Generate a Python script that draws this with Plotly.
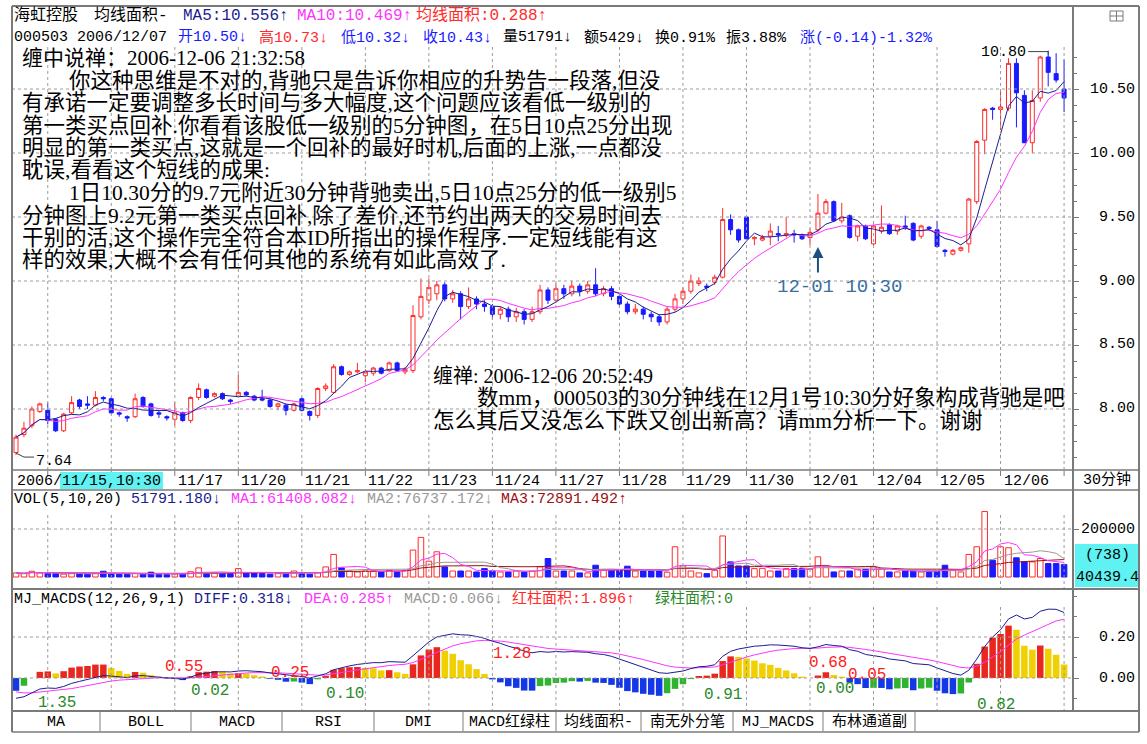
import numpy as np
import pandas as pd
import plotly.graph_objects as go

# ---------------- data ----------------
OPEN = [7.66, 7.80, 7.87, 7.98, 7.99, 7.92, 7.83, 7.97, 8.07, 8.04,
        8.03, 8.09, 8.08, 7.97, 7.94, 7.94, 8.09, 8.04, 7.97, 7.94,
        7.92, 7.97, 7.91, 8.09, 8.15, 8.10, 8.12, 8.07, 8.10, 8.13,
        8.10, 8.08, 8.07, 8.02, 8.03, 7.99, 8.08, 7.98, 7.95, 8.16,
        8.13, 8.33, 8.27, 8.29, 8.26, 8.28, 8.32, 8.30, 8.36, 8.29,
        8.30, 8.72, 8.85, 8.90, 8.97, 8.86, 8.90, 8.80, 8.86, 8.82,
        8.80, 8.74, 8.78, 8.72, 8.76, 8.70, 8.76, 8.93, 8.85, 8.94,
        8.90, 8.96, 8.92, 8.97, 8.90, 8.94, 8.88, 8.82, 8.76, 8.78,
        8.74, 8.72, 8.68, 8.78, 8.86, 8.92, 8.98, 8.96, 8.99, 9.03,
        9.48, 9.40, 9.50, 9.33, 9.32, 9.35, 9.37, 9.36, 9.37, 9.36,
        9.34, 9.40, 9.53, 9.62, 9.47, 9.51, 9.35, 9.43, 9.29, 9.39,
        9.44, 9.39, 9.43, 9.45, 9.35, 9.42, 9.40, 9.24, 9.21, 9.24,
        9.29, 9.62, 10.10, 10.35, 10.34, 10.35, 10.70, 10.45, 10.08, 10.43,
        10.75, 10.62, 10.50]
HIGH = [7.80, 7.90, 8.02, 8.05, 8.05, 7.93, 7.97, 8.10, 8.08, 8.10,
        8.14, 8.10, 8.09, 7.98, 7.95, 8.12, 8.10, 8.05, 7.99, 7.95,
        8.05, 7.98, 8.10, 8.20, 8.16, 8.13, 8.13, 8.08, 8.27, 8.14,
        8.11, 8.15, 8.08, 8.05, 8.04, 8.05, 8.09, 7.99, 8.17, 8.20,
        8.35, 8.34, 8.30, 8.36, 8.31, 8.33, 8.33, 8.37, 8.37, 8.33,
        8.81, 9.02, 9.02, 9.00, 8.99, 8.93, 8.92, 8.95, 8.88, 8.85,
        8.82, 8.80, 8.80, 8.79, 8.78, 8.80, 8.97, 8.95, 8.98, 8.97,
        9.00, 8.98, 9.00, 9.10, 8.96, 8.96, 8.90, 8.84, 8.82, 8.80,
        8.76, 8.74, 8.80, 8.90, 8.95, 9.05, 9.03, 8.98, 9.05, 9.57,
        9.52, 9.41, 9.51, 9.35, 9.36, 9.45, 9.43, 9.50, 9.40, 9.37,
        9.41, 9.68, 9.64, 9.63, 9.61, 9.52, 9.44, 9.44, 9.44, 9.59,
        9.45, 9.44, 9.51, 9.46, 9.44, 9.43, 9.47, 9.25, 9.25, 9.27,
        9.65, 10.10, 10.35, 10.36, 10.49, 10.74, 10.74, 10.49, 10.49, 10.76,
        10.80, 10.78, 10.73]
LOW = [7.64, 7.78, 7.85, 7.97, 7.88, 7.82, 7.82, 7.96, 8.00, 8.00,
       8.02, 8.06, 7.96, 7.94, 7.90, 7.93, 8.01, 7.94, 7.93, 7.91,
       7.87, 7.90, 7.89, 8.07, 8.08, 8.09, 8.07, 8.04, 8.09, 8.10,
       8.06, 8.06, 8.01, 7.99, 7.95, 7.98, 7.98, 7.91, 7.93, 8.14,
       8.12, 8.26, 8.26, 8.28, 8.21, 8.26, 8.27, 8.29, 8.29, 8.27,
       8.28, 8.70, 8.82, 8.85, 8.84, 8.83, 8.70, 8.78, 8.78, 8.76,
       8.70, 8.70, 8.68, 8.68, 8.66, 8.68, 8.74, 8.82, 8.83, 8.86,
       8.88, 8.88, 8.90, 8.88, 8.88, 8.85, 8.80, 8.74, 8.74, 8.70,
       8.68, 8.65, 8.66, 8.76, 8.82, 8.90, 8.96, 8.92, 8.97, 9.02,
       9.36, 9.30, 9.32, 9.28, 9.31, 9.28, 9.31, 9.34, 9.30, 9.32,
       9.28, 9.38, 9.52, 9.46, 9.45, 9.33, 9.31, 9.32, 9.28, 9.37,
       9.36, 9.36, 9.40, 9.31, 9.33, 9.39, 9.26, 9.19, 9.20, 9.23,
       9.22, 9.60, 9.99, 10.26, 10.18, 10.33, 10.20, 10.08, 10.00, 10.40,
       10.52, 10.55, 10.32]
CLOSE = [7.78, 7.85, 8.00, 8.04, 7.91, 7.83, 7.96, 8.05, 8.02, 8.03,
         8.09, 8.08, 7.97, 7.96, 7.93, 8.08, 8.02, 7.95, 7.96, 7.93,
         7.97, 7.91, 8.09, 8.16, 8.09, 8.12, 8.08, 8.06, 8.13, 8.11,
         8.07, 8.07, 8.02, 8.04, 7.99, 8.04, 7.99, 7.95, 8.16, 8.18,
         8.33, 8.27, 8.29, 8.30, 8.29, 8.32, 8.28, 8.36, 8.30, 8.31,
         8.73, 8.88, 8.95, 8.97, 8.86, 8.90, 8.80, 8.86, 8.82, 8.80,
         8.74, 8.78, 8.72, 8.76, 8.70, 8.76, 8.93, 8.85, 8.94, 8.90,
         8.96, 8.92, 8.97, 8.90, 8.94, 8.88, 8.82, 8.76, 8.78, 8.74,
         8.72, 8.68, 8.78, 8.86, 8.92, 9.00, 9.00, 8.95, 9.03, 9.48,
         9.40, 9.32, 9.33, 9.34, 9.34, 9.39, 9.36, 9.37, 9.36, 9.33,
         9.38, 9.53, 9.62, 9.47, 9.50, 9.34, 9.43, 9.33, 9.43, 9.42,
         9.37, 9.43, 9.42, 9.32, 9.43, 9.41, 9.27, 9.23, 9.24, 9.26,
         9.64, 10.09, 10.34, 10.34, 10.36, 10.70, 10.47, 10.08, 10.41, 10.75,
         10.63, 10.57, 10.43]
VOLUME = [17000, 14000, 24000, 17000, 14000, 14000, 12000, 14000, 14000, 12000,
          15000, 24000, 15000, 12000, 12000, 14000, 12000, 20000, 12000, 10000,
          12000, 14000, 22000, 38000, 14000, 17000, 14000, 14000, 35000, 17000,
          17000, 14000, 12000, 14000, 14000, 25000, 14000, 12000, 17000, 42000,
          94000, 38000, 25000, 21000, 25000, 24000, 21000, 28000, 21000, 28000,
          112000, 165000, 66000, 105000, 42000, 25000, 25000, 25000, 21000, 35000,
          25000, 21000, 21000, 25000, 21000, 25000, 42000, 77000, 25000, 25000,
          25000, 17000, 17000, 49000, 28000, 28000, 28000, 45000, 25000, 25000,
          25000, 25000, 20000, 126000, 46000, 25000, 17000, 14000, 28000, 171000,
          63000, 46000, 46000, 35000, 36000, 25000, 25000, 35000, 35000, 35000,
          32000, 84000, 42000, 21000, 25000, 25000, 32000, 32000, 42000, 35000,
          21000, 21000, 25000, 25000, 21000, 25000, 25000, 49000, 28000, 21000,
          94000, 126000, 273000, 70000, 126000, 122000, 80000, 63000, 63000, 77000,
          56000, 56000, 51791]

DAY_LABELS = ["11/15", "11/16", "11/17", "11/20", "11/21", "11/22", "11/23", "11/24",
              "11/27", "11/28", "11/29", "11/30", "12/01", "12/04", "12/05", "12/06", "12/07"]
FIRST_DAY_START = 4
BARS_PER_DAY = 8
CURSOR_LABEL = ("2006/", "11/15,10:30")
PRICE_TICKS = [8.00, 8.50, 9.00, 9.50, 10.00, 10.50]
VOL_TICKS = [200000]
MACD_TICKS = [0.00, 0.20]
MACD_SEEDS = (7.86, 7.96, -0.06)           # EMA12, EMA26, DEA before first visible bar
HIGH_MARK, LOW_MARK = 10.80, 7.64
RED_AREAS = ["0.55", "0.25", "1.28", "0.68", "0.05"]
RED_AREA_AT = [(21.2, 0.054), (34.5, 0.024), (62.5, 0.117), (102.3, 0.073), (107.2, 0.015)]
GREEN_AREAS = ["1.35", "0.02", "0.10", "0.91", "0.00", "0.82"]
GREEN_AREA_AT = [(5.2, -0.122), (24.4, -0.063), (41.4, -0.078), (89.0, -0.083), (103.1, -0.054), (123.4, -0.132)]

HEADER_ROW1 = ["海虹控股", "均线面积-", "MA5:10.556↑", "MA10:10.469↑", "均线面积:0.288↑"]
HEADER_ROW2 = ["000503 2006/12/07", "开10.50↓", "高10.73↓", "低10.32↓", "收10.43↓",
               "量51791↓", "额5429↓", "换0.91%", "振3.88%", "涨(-0.14)-1.32%"]
VOL_HEADER = ["VOL(5,10,20)", "51791.180↓", "MA1:61408.082↓", "MA2:76737.172↓", "MA3:72891.492↑"]
MACD_HEADER = ["MJ_MACDS(12,26,9,1)", "DIFF:0.318↓", "DEA:0.285↑", "MACD:0.066↓",
               "红柱面积:1.896↑", "绿柱面积:0"]
TABS = ["MA", "BOLL", "MACD", "RSI", "DMI", "MACD红绿柱", "均线面积-", "南无外分笔", "MJ_MACDS", "布林通道副"]
VOL_BOX = ["(738)", "40439.4"]
PERIOD_LABEL = "30分钟"

COMMENT_TITLE = "缠中说禅：2006-12-06 21:32:58"
COMMENT_LINES = [
    "你这种思维是不对的,背驰只是告诉你相应的升势告一段落,但没",
    "有承诺一定要调整多长时间与多大幅度,这个问题应该看低一级别的",
    "第一类买点回补.你看看该股低一级别的5分钟图，在5日10点25分出现",
    "明显的第一类买点,这就是一个回补的最好时机,后面的上涨,一点都没",
    "耽误,看看这个短线的成果:",
    "1日10.30分的9.7元附近30分钟背驰卖出,5日10点25分的低一级别5",
    "分钟图上9.2元第一类买点回补,除了差价,还节约出两天的交易时间去",
    "干别的活,这个操作完全符合本ID所指出的操作程序.一定短线能有这",
    "样的效果,大概不会有任何其他的系统有如此高效了.",
]
QUESTION_TITLE = "缠禅: 2006-12-06 20:52:49"
QUESTION_LINES = ["数mm，000503的30分钟线在12月1号10:30分好象构成背驰是吧",
                  "怎么其后又没怎么下跌又创出新高？请mm分析一下。谢谢"]
MARK_TEXT = "12-01 10:30"
MARK_BAR = 101

# ---------------- indicators ----------------
idx = np.arange(len(CLOSE))
close = pd.Series(CLOSE, dtype=float)
vol = pd.Series(VOLUME, dtype=float)
ma5 = close.rolling(5, min_periods=1).mean()
ma10 = close.rolling(10, min_periods=1).mean()
vma5 = vol.rolling(5, min_periods=1).mean()
vma10 = vol.rolling(10, min_periods=1).mean()
vma20 = vol.rolling(20, min_periods=1).mean()


def ema(values, n, seed):
    a = 2.0 / (n + 1)
    out, prev = [], seed
    for v in values:
        prev = prev + a * (v - prev)
        out.append(prev)
    return np.array(out)


e12 = ema(CLOSE, 12, MACD_SEEDS[0])
e26 = ema(CLOSE, 26, MACD_SEEDS[1])
diff = e12 - e26
dea = ema(diff, 9, MACD_SEEDS[2])
macd = 2 * (diff - dea)

# ---------------- layout geometry ----------------
W, H = 1147, 744
def px(x): return x / W
def py(y): return 1 - y / H

BAR_X0, BAR_DX = 16.0, 7.94
PLOT_L, PLOT_R, RIGHT_EDGE, FRAME_L = 12, 1073, 1139, 12
XR = [(PLOT_L - BAR_X0) / BAR_DX, (PLOT_R - BAR_X0) / BAR_DX]
def bar_px(i): return BAR_X0 + i * BAR_DX

PRICE_TOP, PRICE_BOT = 47, 470
def price_at(y): return 10.5 - (y - 89) / 128.0
def price_y(p): return 89 + (10.5 - p) * 128.0
VOL_TOP, VOL_BOT = 505, 589
def vol_at(y): return (577 - y) / 48.0 * 200000
def vol_y(v): return 577 - v / 200000 * 48.0
MACD_TOP, MACD_BOT = 590, 711
def macd_at(y): return (678 - y) / 205.0
def macd_y(m): return 678 - m * 205.0

RED = "#ff2a2a"
BLUE = "#1a1aff"
NAVY = "#1c1c90"
MAGENTA = "#ff33ff"
GRAY = "#999999"
DARKRED = "#a01010"
GREEN = "#2a8a2a"
FRAME = "#7a7a7a"
GRID = "#9c9c9c"
CYAN = "#5ef2f2"
MONO = "Liberation Mono, Noto Sans CJK SC, monospace"
SERIF = "Liberation Serif, Noto Sans CJK SC, serif"

fig = go.Figure()

fig.add_trace(go.Candlestick(
    x=idx, open=OPEN, high=HIGH, low=LOW, close=CLOSE,
    increasing=dict(line=dict(color=RED, width=1), fillcolor="#ffffff"),
    decreasing=dict(line=dict(color=BLUE, width=1), fillcolor=BLUE),
    whiskerwidth=0, hoverinfo="skip", xaxis="x", yaxis="y", showlegend=False))
fig.add_trace(go.Scatter(x=idx, y=ma10, mode="lines", line=dict(color=MAGENTA, width=1),
                         hoverinfo="skip", yaxis="y", showlegend=False))
fig.add_trace(go.Scatter(x=idx, y=ma5, mode="lines", line=dict(color=NAVY, width=1),
                         hoverinfo="skip", yaxis="y", showlegend=False))

up = np.array(CLOSE) >= np.array(OPEN)
fig.add_trace(go.Bar(x=idx, y=VOLUME, width=0.7,
                     marker=dict(color=np.where(up, "#ffffff", BLUE).tolist(),
                                 line=dict(color=np.where(up, RED, BLUE).tolist(), width=1)),
                     hoverinfo="skip", yaxis="y2", showlegend=False))
for s, c in [(vma20, DARKRED), (vma10, GRAY), (vma5, MAGENTA)]:
    fig.add_trace(go.Scatter(x=idx, y=s, mode="lines", line=dict(color=c, width=1),
                             hoverinfo="skip", yaxis="y2", showlegend=False))

mcol = []
for k, m in enumerate(macd):
    prev = macd[k - 1] if k > 0 else m
    if m >= 0:
        mcol.append("#e8281e" if m >= prev else "#f0d000")
    else:
        mcol.append("#1438e6" if m <= prev else "#2fb42f")
fig.add_trace(go.Bar(x=idx, y=macd, width=0.82, marker=dict(color=mcol, line=dict(width=0)),
                     hoverinfo="skip", yaxis="y3", showlegend=False))
fig.add_trace(go.Scatter(x=idx, y=dea, mode="lines", line=dict(color=MAGENTA, width=1),
                         hoverinfo="skip", yaxis="y3", showlegend=False))
fig.add_trace(go.Scatter(x=idx, y=diff, mode="lines", line=dict(color=NAVY, width=1),
                         hoverinfo="skip", yaxis="y3", showlegend=False))

shapes = []
annotations = []


def line(x0, y0, x1, y1, color=FRAME, width=1, dash="solid"):
    shapes.append(dict(type="line", xref="paper", yref="paper", x0=px(x0), y0=py(y0),
                       x1=px(x1), y1=py(y1), line=dict(color=color, width=width, dash=dash),
                       layer="above"))


def text(x, y, t, color="#000000", size=15, family=MONO, anchor="left"):
    annotations.append(dict(x=px(x), y=py(y), xref="paper", yref="paper", text=t,
                            showarrow=False, xanchor=anchor, yanchor="middle",
                            borderpad=0, font=dict(family=family, size=size, color=color)))


# grid (dotted)
day_starts = [FIRST_DAY_START + BARS_PER_DAY * k for k in range(len(DAY_LABELS))]
for d in day_starts:
    xp = bar_px(d)
    for (a, b) in [(PRICE_TOP, PRICE_BOT), (515, VOL_BOT), (607, MACD_BOT)]:
        line(xp, a, xp, b, GRID, 1, "dot")
for p in PRICE_TICKS:
    line(PLOT_L, price_y(p), PLOT_R, price_y(p), GRID, 1, "dot")
for v in VOL_TICKS:
    line(PLOT_L, vol_y(v), PLOT_R, vol_y(v), GRID, 1, "dot")
for m in MACD_TICKS:
    line(PLOT_L, macd_y(m), PLOT_R, macd_y(m), GRID, 1, "dot")

# frame
line(FRAME_L, 6, RIGHT_EDGE, 6, FRAME, 2)
line(FRAME_L, 6, FRAME_L, 732, FRAME, 2)
line(PLOT_R, 6, PLOT_R, 711, FRAME, 2)
line(RIGHT_EDGE, 6, RIGHT_EDGE, 732, FRAME, 2)
line(FRAME_L, 470, RIGHT_EDGE, 470, FRAME, 1.5)
line(FRAME_L, 490, RIGHT_EDGE, 490, FRAME, 1.5)
line(FRAME_L, 589, RIGHT_EDGE, 589, FRAME, 2)
line(FRAME_L, 711, RIGHT_EDGE, 711, FRAME, 2)
line(FRAME_L, 732, RIGHT_EDGE, 732, FRAME, 1.5)
shapes.append(dict(type="rect", xref="paper", yref="paper", x0=px(1110), x1=px(1123),
                   y0=py(21), y1=py(11), line=dict(color=FRAME, width=1)))
line(1116.5, 11, 1116.5, 21, FRAME, 1)
line(1110, 16, 1123, 16, FRAME, 1)

# date row
for d in day_starts:
    line(bar_px(d), 471, bar_px(d), 476, FRAME, 1)
for d, lab in zip(day_starts, DAY_LABELS):
    if d >= FIRST_DAY_START + 2 * BARS_PER_DAY and d + BARS_PER_DAY <= len(CLOSE):
        text(bar_px(d) + 2, 481, lab, "#000000", 15)
shapes.append(dict(type="rect", xref="paper", yref="paper", x0=px(60), x1=px(163),
                   y0=py(489), y1=py(472), fillcolor=CYAN, line=dict(width=0), layer="above"))
text(16, 481, CURSOR_LABEL[0], "#000000", 15)
text(61, 481, CURSOR_LABEL[1], "#000000", 15)
text(1107, 480, PERIOD_LABEL, "#000000", 15, anchor="center")

# header rows
ROW1_X = [13, 93, 182, 296, 415]
ROW1_C = ["#000000", "#000000", NAVY, MAGENTA, RED]
for t_, x_, c_ in zip(HEADER_ROW1, ROW1_X, ROW1_C):
    text(x_, 16, t_, c_, 16)
ROW2_X = [13, 177, 258, 340, 422, 502, 583, 654, 725, 799]
ROW2_C = ["#000000", BLUE, RED, BLUE, BLUE, "#000000", "#000000", "#000000", "#000000", BLUE]
for t_, x_, c_ in zip(HEADER_ROW2, ROW2_X, ROW2_C):
    text(x_, 38, t_, c_, 15)
VOL_X = [13, 130, 230, 366, 500]
VOL_C = ["#000000", NAVY, MAGENTA, GRAY, DARKRED]
for t_, x_, c_ in zip(VOL_HEADER, VOL_X, VOL_C):
    text(x_, 500, t_, c_, 15)
MACD_X = [13, 193, 303, 403, 511, 654]
MACD_C = ["#000000", NAVY, MAGENTA, GRAY, RED, GREEN]
for t_, x_, c_ in zip(MACD_HEADER, MACD_X, MACD_C):
    text(x_, 599, t_, c_, 15)

# right axis labels
for p in PRICE_TICKS:
    text(1136, price_y(p), f"{p:.2f}", "#000000", 15, anchor="right")
for v in VOL_TICKS:
    text(1136, vol_y(v), f"{v:d}", "#000000", 15, anchor="right")
for m in MACD_TICKS:
    text(1136, macd_y(m), f"{m:.2f}", "#000000", 15, anchor="right")
shapes.append(dict(type="rect", xref="paper", yref="paper", x0=px(1075), x1=px(1138),
                   y0=py(587), y1=py(544), fillcolor=CYAN, line=dict(width=0), layer="above"))
text(1107, 555, VOL_BOX[0], "#000000", 15, anchor="center")
text(1107, 577, VOL_BOX[1], "#000000", 15, anchor="center")

# tabs
TAB_SEPS = [FRAME_L, 100, 191, 282, 374, 463, 556, 641, 733, 823, 915]
for s in TAB_SEPS[1:]:
    line(s, 712, s, 731, "#a8a8a8", 1.5)
for k, t_ in enumerate(TABS):
    text((TAB_SEPS[k] + TAB_SEPS[k + 1]) / 2, 722, t_, "#000000", 15, anchor="center")

# comments
text(21, 58, COMMENT_TITLE, "#000000", 21, SERIF)
for k, t_ in enumerate(COMMENT_LINES):
    x0 = 68 if k in (0, 5) else 21
    text(x0, 81 + k * 22.3 + (1 if k >= 5 else 0), t_, "#000000", 21.5, SERIF)
text(432, 376, QUESTION_TITLE, "#000000", 20, SERIF)
text(476, 398, QUESTION_LINES[0], "#000000", 21.5, SERIF)
text(432, 421, QUESTION_LINES[1], "#000000", 21.5, SERIF)

# mark for 12-01 10:30
annotations.append(dict(x=MARK_BAR, y=price_at(247), xref="x", yref="y", text="",
                        showarrow=True, ax=0, ay=27, arrowhead=2, arrowsize=1.1,
                        arrowwidth=2, arrowcolor="#1f4f7f"))
text(bar_px(MARK_BAR) + 22, 287, MARK_TEXT, "#3a70a0", 19, anchor="center")

# high / low marks
hi_bar = int(np.argmax(HIGH))
lo_bar = int(np.argmin(LOW))
line(bar_px(hi_bar) - 20, price_y(HIGH_MARK) + 1, bar_px(hi_bar), price_y(HIGH_MARK) + 1, "#404040", 1)
line(bar_px(hi_bar), price_y(HIGH_MARK) + 1, bar_px(hi_bar), price_y(HIGH_MARK) + 4, "#404040", 1)
text(bar_px(hi_bar) - 21, price_y(HIGH_MARK) + 2, f"{HIGH_MARK:.2f}", "#000000", 15, anchor="right")
line(bar_px(lo_bar), price_y(LOW_MARK) - 2, bar_px(lo_bar) + 8, price_y(LOW_MARK) + 2, "#404040", 1)
line(bar_px(lo_bar) + 8, price_y(LOW_MARK) + 2, bar_px(lo_bar) + 18, price_y(LOW_MARK) + 2, "#404040", 1)
text(bar_px(lo_bar) + 19, price_y(LOW_MARK) + 6, f"{LOW_MARK:.2f}", "#000000", 15)

# MACD area labels
for t_, (bi, mv) in zip(RED_AREAS, RED_AREA_AT):
    text(bar_px(bi), macd_y(mv), t_, "#ff2020", 16, anchor="center")
for t_, (bi, mv) in zip(GREEN_AREAS, GREEN_AREA_AT):
    text(bar_px(bi), macd_y(mv), t_, GREEN, 16, anchor="center")

axis_common = dict(showgrid=False, zeroline=False, showline=False, fixedrange=True)
fig.update_layout(
    width=W, height=H, autosize=False,
    margin=dict(l=0, r=0, t=0, b=0, pad=0),
    paper_bgcolor="#ffffff", plot_bgcolor="rgba(0,0,0,0)",
    showlegend=False, barmode="overlay", boxgap=0.28,
    xaxis=dict(domain=[px(PLOT_L), px(PLOT_R)], range=XR, showticklabels=False, ticks="",
               rangeslider=dict(visible=False), **axis_common),
    yaxis=dict(domain=[py(PRICE_BOT), py(PRICE_TOP)], range=[price_at(PRICE_BOT), price_at(PRICE_TOP)],
               anchor="x", side="right", tickvals=PRICE_TICKS, ticks="outside", ticklen=5,
               tickcolor=FRAME, showticklabels=False,
               minor=dict(dtick=0.125, tick0=0, ticks="outside", ticklen=3, tickcolor=FRAME, showgrid=False),
               **axis_common),
    yaxis2=dict(domain=[py(VOL_BOT), py(VOL_TOP)], range=[vol_at(VOL_BOT), vol_at(VOL_TOP)],
                anchor="x", side="right", tickvals=VOL_TICKS, ticks="outside", ticklen=5,
                tickcolor=FRAME, showticklabels=False, **axis_common),
    yaxis3=dict(domain=[py(MACD_BOT), py(MACD_TOP)], range=[macd_at(MACD_BOT), macd_at(MACD_TOP)],
                anchor="x", side="right", tickvals=MACD_TICKS, ticks="outside", ticklen=5,
                tickcolor=FRAME, showticklabels=False,
                minor=dict(dtick=0.1, ticks="outside", ticklen=3, tickcolor=FRAME, showgrid=False),
                **axis_common),
    shapes=shapes, annotations=annotations,
)

fig.write_html("out.html", config={"displayModeBar": False, "staticPlot": True},
               post_script="document.body.style.margin='0px';")
